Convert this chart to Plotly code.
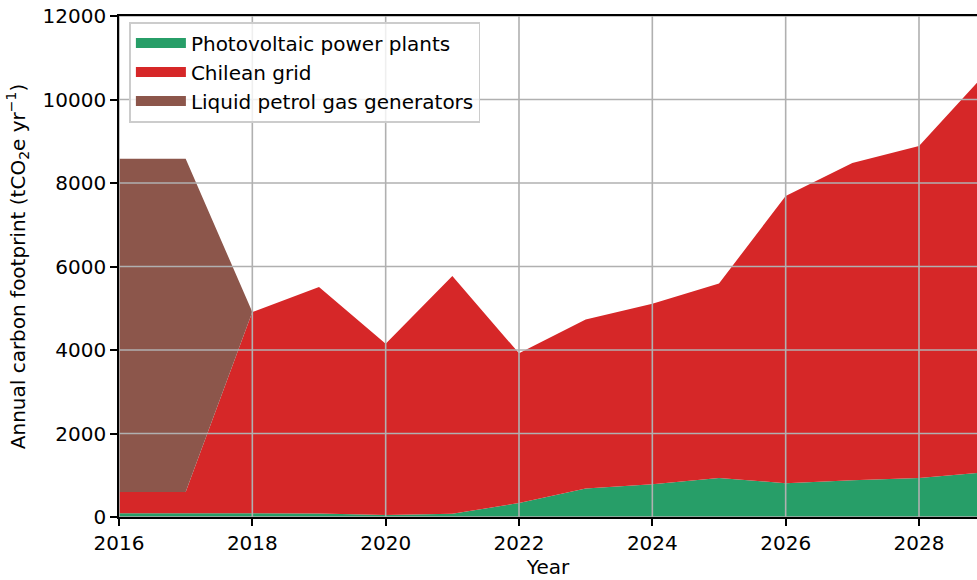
import plotly.graph_objects as go

years = [2016, 2017, 2018, 2019, 2020, 2021, 2022, 2023, 2024, 2025, 2026, 2027, 2028, 2029]
photovoltaic = [90, 90, 90, 85, 50, 75, 335, 685, 785, 933, 810, 880, 933, 1071]
chilean_grid = [510, 510, 4820, 5425, 4100, 5700, 3585, 4045, 4320, 4659, 6880, 7600, 7953, 9559]
lpg_generators = [7980, 7980, 0, 0, 0, 0, 0, 0, 0, 0, 0, 0, 0, 0]

series_names = ["Photovoltaic power plants", "Chilean grid", "Liquid petrol gas generators"]
series_values = [photovoltaic, chilean_grid, lpg_generators]
series_colors = ["#279e68", "#d62728", "#8c564b"]

x_ticks = [2016, 2018, 2020, 2022, 2024, 2026, 2028]
y_ticks = [0, 2000, 4000, 6000, 8000, 10000, 12000]
x_range = [2016, 2028.87]
y_range = [0, 12000]

FONT = "DejaVu Sans"
fig = go.Figure()
for name, vals, col in zip(series_names, series_values, series_colors):
    fig.add_trace(go.Scatter(
        x=years, y=vals, name=name, mode="none", stackgroup="one",
        fillcolor=col, line=dict(width=0, color=col), showlegend=False,
    ))
# legend-only entries (wide swatches)
for name, col in zip(series_names, series_colors):
    fig.add_trace(go.Scatter(
        x=[None], y=[None], name=name, mode="lines",
        line=dict(width=14, color=col), showlegend=True,
    ))

grid_col = "#b0b0b0"
shapes = []
for t in x_ticks:
    shapes.append(dict(type="line", xref="x", yref="paper", x0=t, x1=t, y0=0, y1=1,
                       line=dict(color=grid_col, width=1.6), layer="above"))
for t in y_ticks:
    shapes.append(dict(type="line", xref="paper", yref="y", x0=0, x1=1, y0=t, y1=t,
                       line=dict(color=grid_col, width=1.6), layer="above"))

fig.update_layout(
    width=977, height=580,
    margin=dict(l=119, r=0, t=16, b=63),
    paper_bgcolor="white", plot_bgcolor="white",
    font=dict(family=FONT, size=20, color="black"),
    shapes=shapes,
    showlegend=True,
    legend=dict(
        x=0.012, y=0.988, xanchor="left", yanchor="top",
        bgcolor="rgba(255,255,255,0.8)", bordercolor="#cccccc", borderwidth=1.6,
        traceorder="normal", font=dict(family=FONT, size=20, color="black"),
        tracegroupgap=0, itemwidth=50,
    ),
    xaxis=dict(
        range=x_range, tickvals=x_ticks, showgrid=False, zeroline=False,
        showline=True, linecolor="black", linewidth=1.6, mirror=True,
        ticks="outside", ticklen=7, tickwidth=1.6, tickcolor="black",
        layer="above traces", ticklabeloverflow="allow",
        title=dict(text="Year", standoff=6, font=dict(family=FONT, size=20)),
        tickfont=dict(family=FONT, size=20),
    ),
    yaxis=dict(
        range=y_range, tickvals=y_ticks, tickformat="d", showgrid=False, zeroline=False,
        showline=True, linecolor="black", linewidth=1.6,
        ticks="outside", ticklen=7, tickwidth=1.6, tickcolor="black",
        layer="above traces", ticklabeloverflow="allow",
        title=dict(text="Annual carbon footprint (tCO<sub>2</sub>e yr<sup>−1</sup>)", standoff=12,
                   font=dict(family=FONT, size=20)),
        tickfont=dict(family=FONT, size=20),
    ),
)

fig.write_html(
    "out.html",
    config={"displayModeBar": False},
    post_script="document.body.style.margin='0';document.body.style.overflow='hidden';",
)
